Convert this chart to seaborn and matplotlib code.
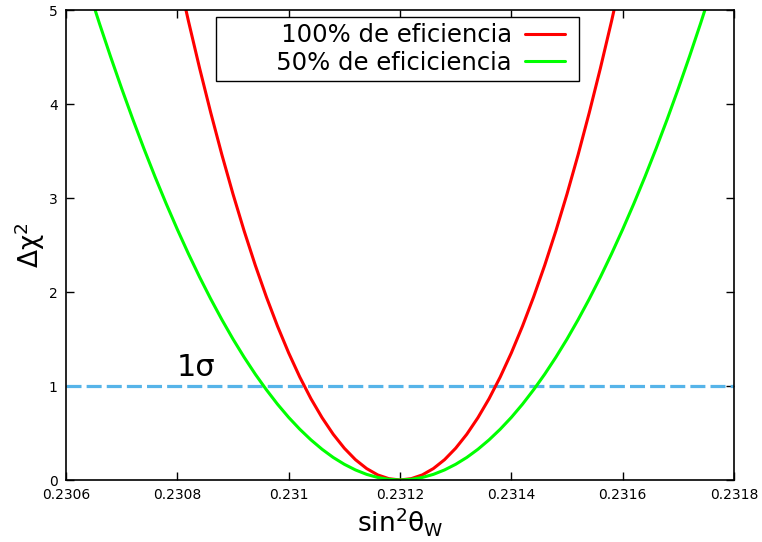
import numpy as np
import pandas as pd
import matplotlib
matplotlib.use("Agg")
import matplotlib.pyplot as plt
import seaborn as sns
from matplotlib.lines import Line2D
from matplotlib.legend_handler import HandlerLine2D

# sin^2(theta_W) sample points and the Delta chi^2 profile for each efficiency
x_full = [0.23080, 0.23082, 0.23084, 0.23086, 0.23088, 0.23090, 0.23092, 0.23094,
          0.23096, 0.23098, 0.23100, 0.23102, 0.23104, 0.23106, 0.23108, 0.23110,
          0.23112, 0.23114, 0.23116, 0.23118, 0.23120, 0.23122, 0.23124, 0.23126,
          0.23128, 0.23130, 0.23132, 0.23134, 0.23136, 0.23138, 0.23140, 0.23142,
          0.23144, 0.23146, 0.23148, 0.23150, 0.23152, 0.23154, 0.23156, 0.23158,
          0.23160]
chi2_full = [5.408, 4.881, 4.381, 3.908, 3.461, 3.042, 2.650, 2.285, 1.947, 1.636,
             1.352, 1.095, 0.865, 0.663, 0.487, 0.338, 0.216, 0.122, 0.054, 0.014,
             0.000, 0.014, 0.054, 0.122, 0.216, 0.338, 0.487, 0.663, 0.865, 1.095,
             1.352, 1.636, 1.947, 2.285, 2.650, 3.042, 3.461, 3.908, 4.381, 4.881,
             5.408]

x_half = [0.23064, 0.23066, 0.23068, 0.23070, 0.23072, 0.23074, 0.23076, 0.23078,
          0.23080, 0.23082, 0.23084, 0.23086, 0.23088, 0.23090, 0.23092, 0.23094,
          0.23096, 0.23098, 0.23100, 0.23102, 0.23104, 0.23106, 0.23108, 0.23110,
          0.23112, 0.23114, 0.23116, 0.23118, 0.23120, 0.23122, 0.23124, 0.23126,
          0.23128, 0.23130, 0.23132, 0.23134, 0.23136, 0.23138, 0.23140, 0.23142,
          0.23144, 0.23146, 0.23148, 0.23150, 0.23152, 0.23154, 0.23156, 0.23158,
          0.23160, 0.23162, 0.23164, 0.23166, 0.23168, 0.23170, 0.23172, 0.23174,
          0.23176]
chi2_half = [5.225, 4.858, 4.505, 4.165, 3.838, 3.525, 3.225, 2.939, 2.666, 2.406,
             2.159, 1.926, 1.706, 1.499, 1.306, 1.126, 0.960, 0.806, 0.666, 0.540,
             0.427, 0.327, 0.240, 0.167, 0.107, 0.060, 0.027, 0.007, 0.000, 0.007,
             0.027, 0.060, 0.107, 0.167, 0.240, 0.327, 0.427, 0.540, 0.666, 0.806,
             0.960, 1.126, 1.306, 1.499, 1.706, 1.926, 2.159, 2.406, 2.666, 2.939,
             3.225, 3.525, 3.838, 4.165, 4.505, 4.858, 5.225]

labels = ["100% de eficiencia", "50% de eficiciencia"]
colors = ["#ff0000", "#00ff00"]
one_sigma = 1.0

x_ticks = [0.2306, 0.2308, 0.2310, 0.2312, 0.2314, 0.2316, 0.2318]
x_ticklabels = ["0.2306", "0.2308", "0.231", "0.2312", "0.2314", "0.2316", "0.2318"]
y_ticks = [0, 1, 2, 3, 4, 5]

df = pd.concat([
    pd.DataFrame({"x": x_full, "chi2": chi2_full, "eff": labels[0]}),
    pd.DataFrame({"x": x_half, "chi2": chi2_half, "eff": labels[1]}),
])

sns.set_theme(style="ticks")
plt.rcParams["font.family"] = ["DejaVu Sans"]
plt.rcParams["mathtext.fontset"] = "dejavusans"
for key in ("text.color", "axes.labelcolor", "xtick.color", "ytick.color",
            "xtick.labelcolor", "ytick.labelcolor"):
    plt.rcParams[key] = "black"

fig = plt.figure(figsize=(7.62, 5.42), dpi=100)
ax = fig.add_axes([66 / 762, 62 / 542, 668 / 762, 470 / 542])

sns.lineplot(data=df, x="x", y="chi2", hue="eff", palette=dict(zip(labels, colors)),
             linewidth=2.2, sort=False, legend=False, ax=ax, estimator=None)

ax.axhline(one_sigma, color="#56b4e9", linewidth=2.3, linestyle=(0, (4.7, 1.6)), zorder=1)
ax.text(0.230798, 1.04, "1σ", fontsize=22, ha="left", va="bottom")

ax.set_xlim(0.2306, 0.2318)
ax.set_ylim(0, 5)
ax.set_xticks(x_ticks)
ax.set_xticklabels(x_ticklabels)
ax.set_yticks(y_ticks)
ax.tick_params(direction="in", length=6, width=1, top=True, right=True,
               labelsize=10, colors="black", pad=6)
ax.tick_params(axis="x", labeltop=False)
ax.tick_params(axis="y", labelright=False)
for s in ax.spines.values():
    s.set_linewidth(1.2)
    s.set_color("black")

ax.set_xlabel(r"$\mathregular{sin^2θ_W}$", fontsize=19, labelpad=2)
ax.set_ylabel(r"$\mathregular{Δχ^2}$", fontsize=19, labelpad=1)


class KeyLine(HandlerLine2D):
    """Legend sample line that leaves a little room before the frame."""
    def create_artists(self, legend, orig_handle, xdescent, ydescent, width,
                       height, fontsize, trans):
        return super().create_artists(legend, orig_handle, xdescent, ydescent,
                                      width * 0.83, height, fontsize, trans)


handles = [Line2D([], [], color=c, linewidth=2.2) for c in colors]
key_labels = ["       " + lab for lab in labels]
leg = ax.legend(handles, key_labels, loc="upper right", bbox_to_anchor=(0.768, 0.985),
                markerfirst=False, fontsize=17.5, frameon=True, fancybox=False,
                framealpha=1, edgecolor="black", handlelength=1.975,
                handletextpad=0.53, borderpad=0.25, labelspacing=0.15,
                borderaxespad=0, handler_map={Line2D: KeyLine()})
leg.get_frame().set_linewidth(1.0)

fig.savefig("out.png", dpi=100)
